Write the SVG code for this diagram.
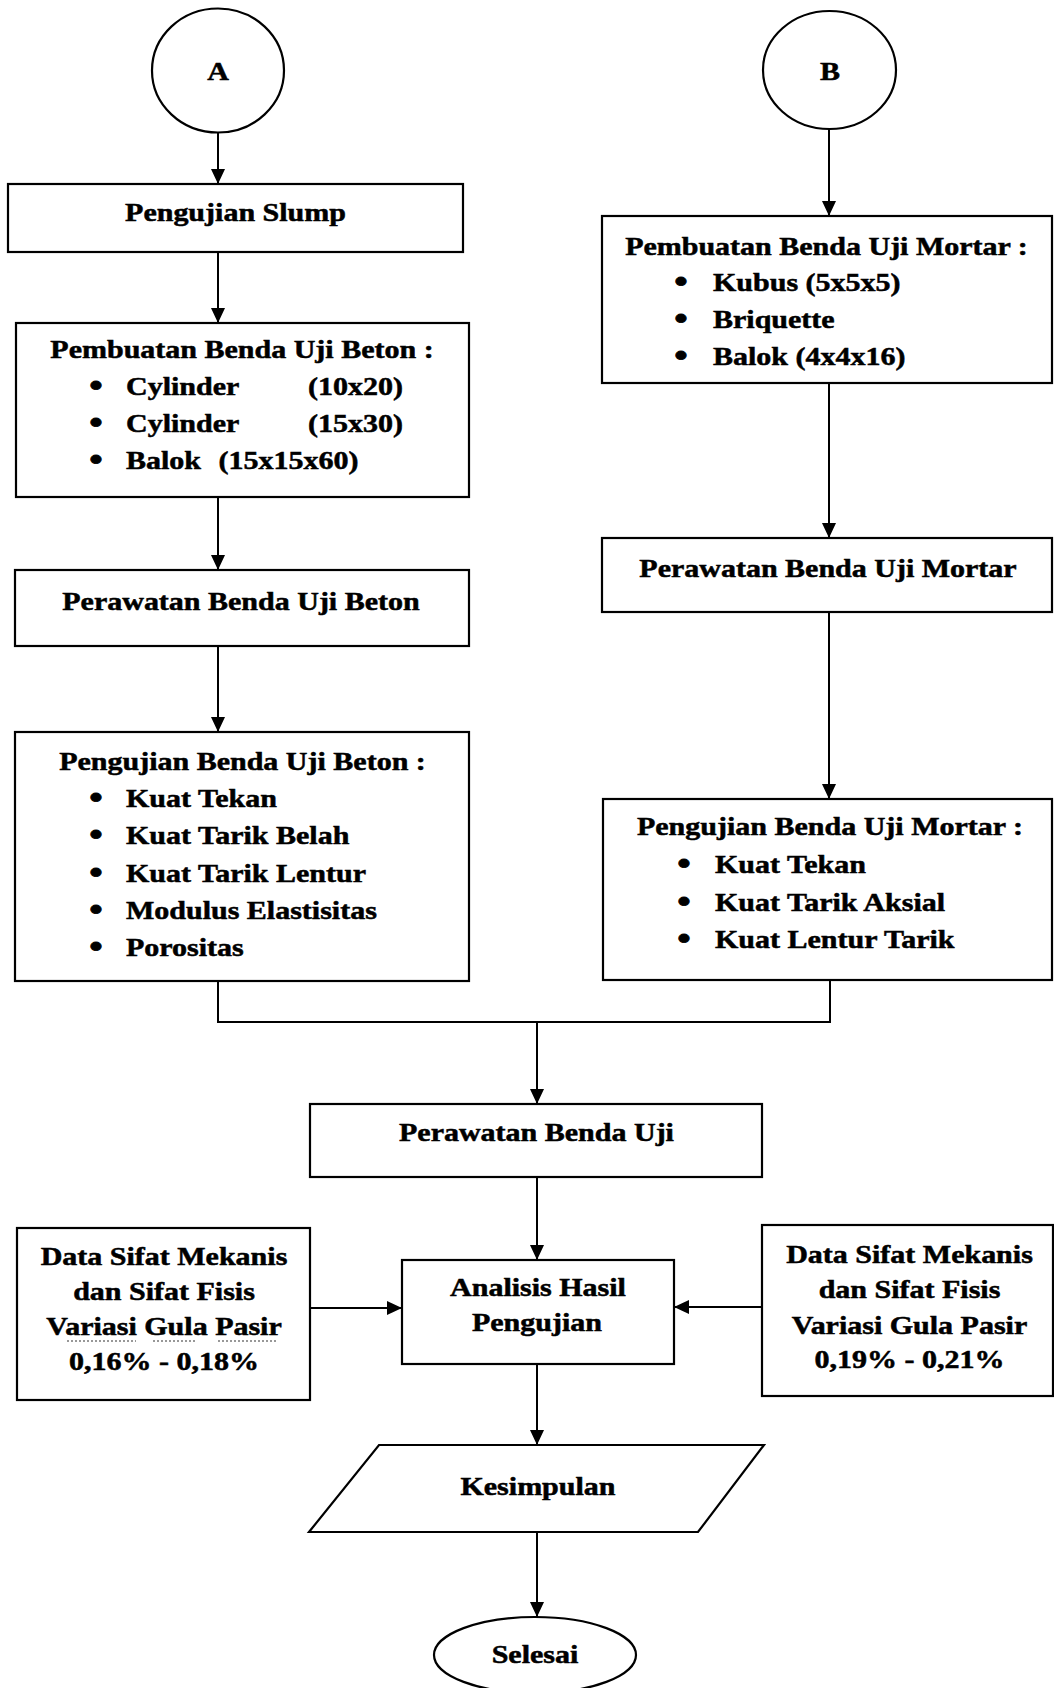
<svg xmlns="http://www.w3.org/2000/svg" width="1054" height="1688" viewBox="0 0 1054 1688">
<style>
.shape{fill:#fff;stroke:#000;stroke-width:2.2}
.conn{fill:none;stroke:#000;stroke-width:2}
.t{font-family:"Liberation Serif","Times New Roman",serif;font-weight:bold;font-size:25px;fill:#000;stroke:#000;stroke-width:0.5}
.c{text-anchor:middle}
.b{font-size:32px;stroke-width:0.8}
.dot{fill:none;stroke:#333;stroke-width:1.2;stroke-dasharray:2 2}
</style>
<defs>
<marker id="arr" markerUnits="userSpaceOnUse" markerWidth="16" markerHeight="16" refX="15" refY="7" orient="auto">
<path d="M0,0 L15,7 L0,14 z" fill="#000"/>
</marker>
</defs>
<rect x="0" y="0" width="1054" height="1688" fill="#fff"/>

<g id="connectors">
<line class="conn" x1="218" y1="133" x2="218" y2="184" marker-end="url(#arr)"/>
<line class="conn" x1="218" y1="252" x2="218" y2="323" marker-end="url(#arr)"/>
<line class="conn" x1="218" y1="497" x2="218" y2="570" marker-end="url(#arr)"/>
<line class="conn" x1="218" y1="646" x2="218" y2="732" marker-end="url(#arr)"/>
<line class="conn" x1="829" y1="129" x2="829" y2="216" marker-end="url(#arr)"/>
<line class="conn" x1="829" y1="383" x2="829" y2="538" marker-end="url(#arr)"/>
<line class="conn" x1="829" y1="612" x2="829" y2="799" marker-end="url(#arr)"/>
<polyline class="conn" points="218,981 218,1022 830,1022 830,980"/>
<line class="conn" x1="537" y1="1022" x2="537" y2="1104" marker-end="url(#arr)"/>
<line class="conn" x1="537" y1="1177" x2="537" y2="1260" marker-end="url(#arr)"/>
<line class="conn" x1="310" y1="1308" x2="402" y2="1308" marker-end="url(#arr)"/>
<line class="conn" x1="762" y1="1307" x2="674" y2="1307" marker-end="url(#arr)"/>
<line class="conn" x1="537" y1="1364" x2="537" y2="1445" marker-end="url(#arr)"/>
<line class="conn" x1="537" y1="1532" x2="537" y2="1617" marker-end="url(#arr)"/>
</g>

<g id="nodeA">
<ellipse class="shape" cx="218" cy="70.5" rx="66" ry="62"/>
<g transform="scale(1.2 1)"><text class="t c" x="181.67" y="80">A</text></g>
</g>

<g id="nodeB">
<ellipse class="shape" cx="829.5" cy="70" rx="66.5" ry="59"/>
<g transform="scale(1.2 1)"><text class="t c" x="691.67" y="80">B</text></g>
</g>

<g id="slump">
<rect class="shape" x="8" y="184" width="455" height="68"/>
<g transform="scale(1.2 1)"><text class="t c" x="196.25" y="221">Pengujian Slump</text></g>
</g>

<g id="pembuatanBeton">
<rect class="shape" x="16" y="323" width="453" height="174"/>
<g transform="scale(1.2 1)">
<text class="t c" x="201.67" y="358">Pembuatan Benda Uji Beton :</text>
<text class="t c b" x="80" y="396">•</text>
<text class="t" x="105" y="395">Cylinder</text>
<text class="t" x="256.67" y="395">(10x20)</text>
<text class="t c b" x="80" y="433">•</text>
<text class="t" x="105" y="432">Cylinder</text>
<text class="t" x="256.67" y="432">(15x30)</text>
<text class="t c b" x="80" y="470">•</text>
<text class="t" x="105" y="469">Balok</text>
<text class="t" x="182.08" y="469">(15x15x60)</text>
</g>
</g>

<g id="perawatanBeton">
<rect class="shape" x="15" y="570" width="454" height="76"/>
<g transform="scale(1.2 1)"><text class="t c" x="200.83" y="610">Perawatan Benda Uji Beton</text></g>
</g>

<g id="pengujianBeton">
<rect class="shape" x="15" y="732" width="454" height="249"/>
<g transform="scale(1.2 1)">
<text class="t c" x="202.08" y="770">Pengujian Benda Uji Beton :</text>
<text class="t c b" x="80" y="808">•</text>
<text class="t" x="105" y="807">Kuat Tekan</text>
<text class="t c b" x="80" y="845">•</text>
<text class="t" x="105" y="844">Kuat Tarik Belah</text>
<text class="t c b" x="80" y="883">•</text>
<text class="t" x="105" y="882">Kuat Tarik Lentur</text>
<text class="t c b" x="80" y="920">•</text>
<text class="t" x="105" y="919">Modulus Elastisitas</text>
<text class="t c b" x="80" y="957">•</text>
<text class="t" x="105" y="956">Porositas</text>
</g>
</g>

<g id="pembuatanMortar">
<rect class="shape" x="602" y="216" width="450" height="167"/>
<g transform="scale(1.2 1)">
<text class="t c" x="688.75" y="255">Pembuatan Benda Uji Mortar :</text>
<text class="t c b" x="567.5" y="292">•</text>
<text class="t" x="594.17" y="291">Kubus (5x5x5)</text>
<text class="t c b" x="567.5" y="329">•</text>
<text class="t" x="594.17" y="328">Briquette</text>
<text class="t c b" x="567.5" y="366">•</text>
<text class="t" x="594.17" y="365">Balok (4x4x16)</text>
</g>
</g>

<g id="perawatanMortar">
<rect class="shape" x="602" y="538" width="450" height="74"/>
<g transform="scale(1.2 1)"><text class="t c" x="690" y="577">Perawatan Benda Uji Mortar</text></g>
</g>

<g id="pengujianMortar">
<rect class="shape" x="603" y="799" width="449" height="181"/>
<g transform="scale(1.2 1)">
<text class="t c" x="691.67" y="835">Pengujian Benda Uji Mortar :</text>
<text class="t c b" x="570" y="874">•</text>
<text class="t" x="595.83" y="873">Kuat Tekan</text>
<text class="t c b" x="570" y="912">•</text>
<text class="t" x="595.83" y="911">Kuat Tarik Aksial</text>
<text class="t c b" x="570" y="949">•</text>
<text class="t" x="595.83" y="948">Kuat Lentur Tarik</text>
</g>
</g>

<g id="perawatanUji">
<rect class="shape" x="310" y="1104" width="452" height="73"/>
<g transform="scale(1.2 1)"><text class="t c" x="447.08" y="1141">Perawatan Benda Uji</text></g>
</g>

<g id="analisis">
<rect class="shape" x="402" y="1260" width="272" height="104"/>
<g transform="scale(1.2 1)">
<text class="t c" x="448.33" y="1296">Analisis Hasil</text>
<text class="t c" x="447.5" y="1331">Pengujian</text>
</g>
</g>

<g id="dataKiri">
<rect class="shape" x="17" y="1228" width="293" height="172"/>
<g transform="scale(1.2 1)">
<text class="t c" x="136.67" y="1265">Data Sifat Mekanis</text>
<text class="t c" x="136.67" y="1300">dan Sifat Fisis</text>
<text class="t c" x="136.67" y="1335">Variasi Gula Pasir</text>
<text class="t c" x="136.67" y="1370">0,16% - 0,18%</text>
</g>
<path class="dot" d="M67,1341 H136 M153,1341 H195 M218,1341 H277"/>
</g>

<g id="dataKanan">
<rect class="shape" x="762" y="1225" width="291" height="171"/>
<g transform="scale(1.2 1)">
<text class="t c" x="757.92" y="1263">Data Sifat Mekanis</text>
<text class="t c" x="757.92" y="1298">dan Sifat Fisis</text>
<text class="t c" x="757.92" y="1334">Variasi Gula Pasir</text>
<text class="t c" x="757.92" y="1368">0,19% - 0,21%</text>
</g>
</g>

<g id="kesimpulan">
<polygon class="shape" points="379,1445 764,1445 698,1532 309,1532"/>
<g transform="scale(1.2 1)"><text class="t c" x="448.33" y="1495">Kesimpulan</text></g>
</g>

<g id="selesai">
<ellipse class="shape" cx="535" cy="1655" rx="101" ry="38"/>
<g transform="scale(1.2 1)"><text class="t c" x="445.83" y="1663">Selesai</text></g>
</g>
</svg>
